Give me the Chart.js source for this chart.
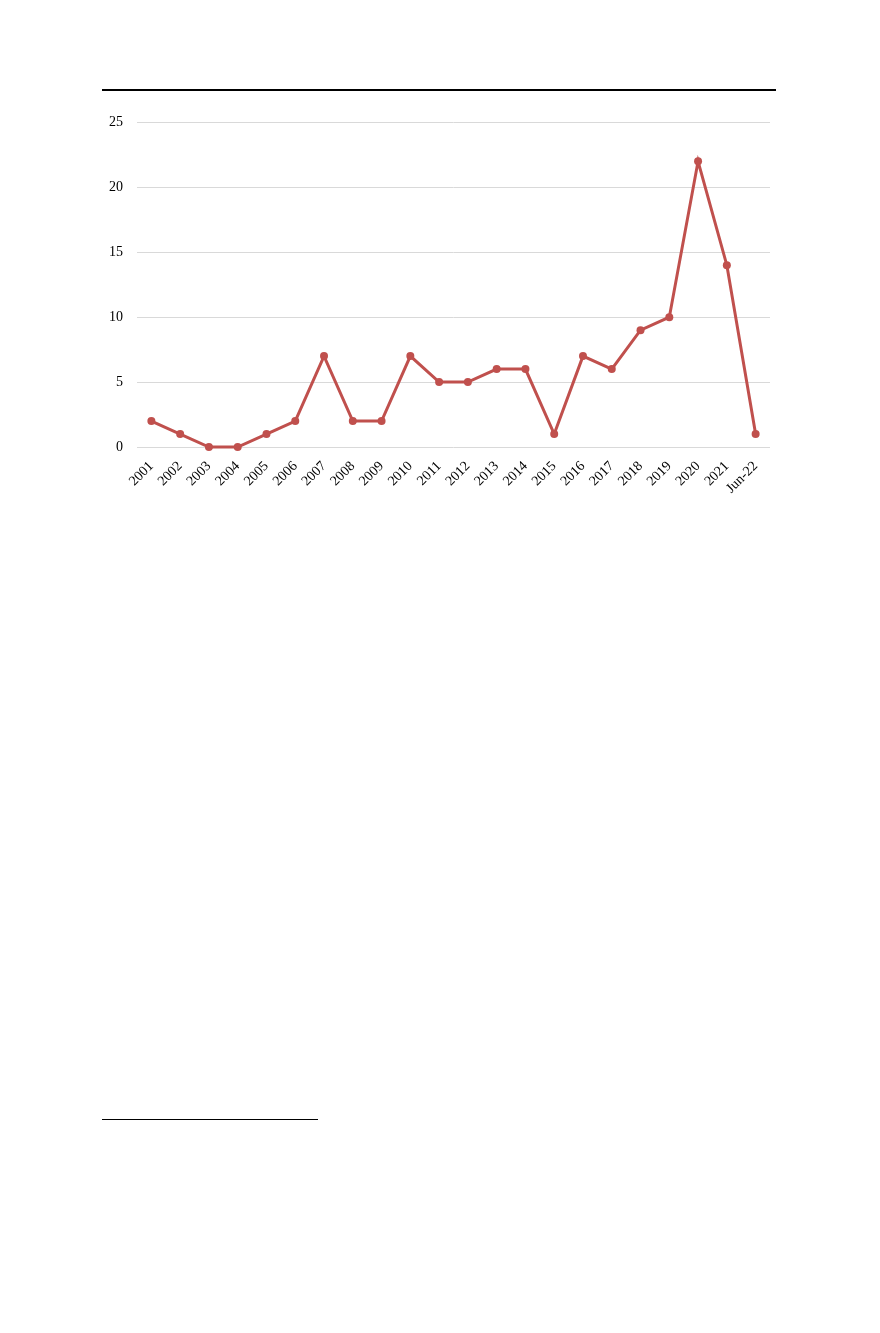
<!DOCTYPE html>
<html>
<head>
<meta charset="utf-8">
<script src="https://cdn.jsdelivr.net/npm/chart.js@4"></script>
<style>
  body { margin: 0; background: #fff; width: 880px; height: 1333px; position: relative; }
  .rule-top { position: absolute; left: 102px; top: 89px; width: 674px; height: 2px; background: #000; }
  .rule-foot { position: absolute; left: 102px; top: 1119px; width: 216px; height: 1px; background: #000; }
  .wrap { position: absolute; left: 100px; top: 100px; width: 676px; height: 420px; }
</style>
</head>
<body>
<div class="rule-top"></div>
<div class="wrap"><canvas id="chart-1"></canvas></div>
<div class="rule-foot"></div>
<script>
//////////////////////////////////////////////// Chart-1
const ctx1 = document.getElementById('chart-1');
labels1 = ['2001', '2002', '2003', '2004', '2005', '2006', '2007', '2008', '2009', '2010', '2011',
    '2012', '2013', '2014', '2015', '2016', '2017', '2018', '2019', '2020', '2021', 'Jun-22']
data1 = [2, 1, 0, 0, 1, 2, 7, 2, 2, 7, 5, 5, 6, 6, 1, 7, 6, 9, 10, 22, 14, 1]
yTicks1 = [0, 5, 10, 15, 20, 25]
lineColor1 = '#C0504D'

new Chart(ctx1, {
    type: 'line',
    data: {
        labels: labels1,
        datasets: [{
            data: data1,
            borderColor: lineColor1,
            backgroundColor: lineColor1,
            borderWidth: 3,
            pointRadius: 4,
            pointBorderWidth: 0,
            tension: 0,
            clip: false
        }]
    },
    options: {
        maintainAspectRatio: false,
        responsive: true,
        animation: false,
        layout: { padding: { top: 2, right: 6, left: 0, bottom: 0 } },
        plugins: {
            legend: { display: false },
            tooltip: { enabled: false }
        },
        scales: {
            x: {
                offset: true,
                grid: { display: false },
                border: { display: false },
                ticks: {
                    color: '#000',
                    font: { family: 'Liberation Serif', size: 14 },
                    maxRotation: 45,
                    minRotation: 45,
                    autoSkip: false,
                    padding: 3
                },
                afterFit: (axis) => { axis.height = 73; }
            },
            y: {
                min: 0,
                max: 25,
                afterBuildTicks: (axis) => { axis.ticks = yTicks1.map(v => ({ value: v })); },
                grid: { color: '#d9d9d9', drawTicks: false, lineWidth: 1 },
                border: { display: false },
                ticks: {
                    color: '#000',
                    font: { family: 'Liberation Serif', size: 14 },
                    padding: 14
                },
                afterFit: (axis) => { axis.width = 37; }
            }
        }
    }
});
</script>
</body>
</html>
